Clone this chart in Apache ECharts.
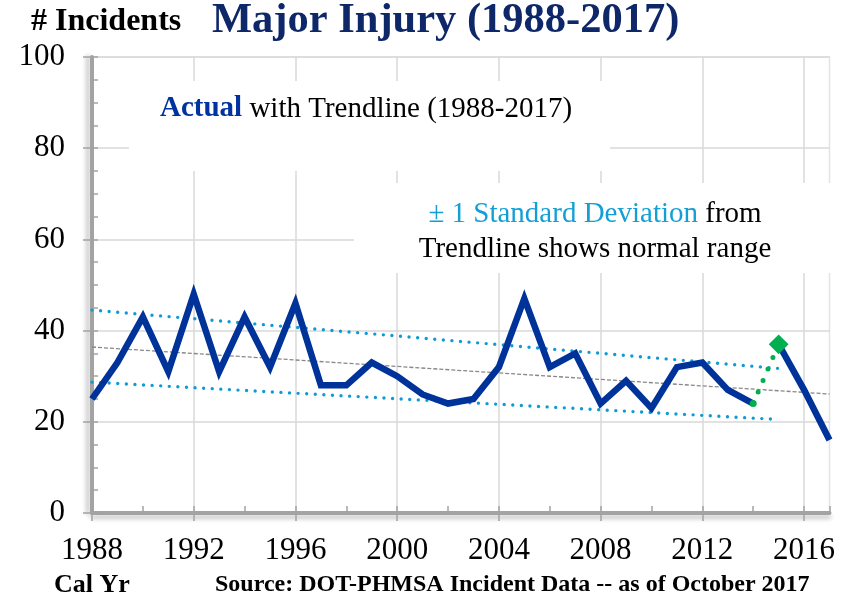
<!DOCTYPE html>
<html>
<head>
<meta charset="utf-8">
<script src="https://cdn.jsdelivr.net/npm/echarts@6/dist/echarts.min.js"></script>
<style>
html,body{margin:0;padding:0;background:#fff;}
#chart{width:852px;height:598px;}
</style>
</head>
<body>
<div id="chart"></div>
<script>
// ---- data ----
var years = [1988,1989,1990,1991,1992,1993,1994,1995,1996,1997,1998,1999,2000,2001,2002,
             2003,2004,2005,2006,2007,2008,2009,2010,2011,2012,2013,2014,2015,2016,2017];
var incidents = [25,33,43,31,48,31,43,32,46,28,28,33,30,26,24,
                 25,32,47,32,35,24,29,23,32,33,27,24,37,27,16];
var trendYears = [1988, 2017];
var trendValues = [36.4, 26.1];
var bandYears = [1988, 2015];
var upperBand = [44.5, 31.7];
var lowerBand = [28.7, 20.5];
var xTickLabels = [1988,1992,1996,2000,2004,2008,2012,2016];
var yTickLabels = [0,20,40,60,80,100];

function pairs(xs, ys){ return xs.map(function(x,i){ return [x, ys[i]]; }); }
var all = pairs(years, incidents);
var i2014 = years.indexOf(2014), i2015 = years.indexOf(2015);
var partA = all.slice(0, i2014 + 1);
var partB = all.slice(i2015);

var serif = '"Liberation Serif","Times New Roman",serif';
var chart = echarts.init(document.getElementById('chart'), null, {renderer:'canvas'});

var axisGray = '#a3a3a3';
chart.setOption({
  animation: false,
  backgroundColor: '#fff',
  grid: { left: 92, right: 22.5, top: 57, bottom: 85, show: true, borderColor: '#e3e3e3', borderWidth: 1.5 },
  xAxis: [{
    type: 'value', min: 1988, max: 2017, interval: 4,
    axisLine: { show: true, lineStyle: { color: axisGray, width: 4, shadowColor: 'rgba(0,0,0,0.22)', shadowBlur: 4, shadowOffsetY: 4 } },
    axisTick: { show: true, inside: false, length: 8, lineStyle: { color: axisGray, width: 1.5 }, customValues: xTickLabels },
    axisLabel: { show: true, margin: 22, fontFamily: serif, fontSize: 31, color: '#000', customValues: xTickLabels,
                 formatter: function(v){ return String(v); } },
    splitLine: { show: true, lineStyle: { color: '#d9d9d9', width: 1.5 } }
  },{
    type: 'value', min: 1988, max: 2017, interval: 2, position: 'bottom',
    axisLine: { show: false },
    axisTick: { show: true, inside: true, length: 7, lineStyle: { color: axisGray, width: 1.5 } },
    axisLabel: { show: false },
    splitLine: { show: false }
  }],
  yAxis: [{
    type: 'value', min: 0, max: 100, interval: 20,
    axisLine: { show: true, lineStyle: { color: axisGray, width: 4, shadowColor: 'rgba(0,0,0,0.22)', shadowBlur: 4, shadowOffsetX: -4 } },
    axisTick: { show: true, inside: false, length: 9, lineStyle: { color: axisGray, width: 1.5 }, customValues: yTickLabels },
    axisLabel: { show: true, margin: 27, fontFamily: serif, fontSize: 31, color: '#000', customValues: yTickLabels },
    splitLine: { show: true, lineStyle: { color: '#d9d9d9', width: 1.5 } }
  },{
    type: 'value', min: 0, max: 100, interval: 5, position: 'left',
    axisLine: { show: false },
    axisTick: { show: true, inside: true, length: 6, lineStyle: { color: axisGray, width: 1.5 } },
    axisLabel: { show: false },
    splitLine: { show: false }
  }],
  series: [
    { name: 'Trend', type: 'line', z: 3, symbol: 'none', data: pairs(trendYears, trendValues),
      lineStyle: { color: '#888', width: 1.3, type: [4, 2] } },
    { name: 'Upper', type: 'line', z: 3, symbol: 'none', data: pairs(bandYears, upperBand),
      lineStyle: { color: '#0e9bd5', width: 3.4, type: [0, 8.6], cap: 'round' } },
    { name: 'Lower', type: 'line', z: 3, symbol: 'none', data: pairs(bandYears, lowerBand),
      lineStyle: { color: '#0e9bd5', width: 3.4, type: [0, 8.6], cap: 'round' } },
    { name: 'Actual', type: 'line', z: 4, symbol: 'none', data: partA,
      lineStyle: { color: '#003399', width: 6.5, join: 'miter' } },
    { name: 'Actual2', type: 'line', z: 4, symbol: 'none', data: partB,
      lineStyle: { color: '#003399', width: 6.5, join: 'miter' } },
    { name: 'Link', type: 'line', z: 5, showSymbol: true,
      data: [
        { value: all[i2014], symbol: 'circle', symbolSize: 7 },
        { value: all[i2015], symbol: 'rect', symbolSize: 14, symbolRotate: 45 }
      ],
      itemStyle: { color: '#00b050' },
      lineStyle: { color: '#00b050', width: 5, type: [0, 12.5], cap: 'round' } }
  ],
  graphic: [
    { type: 'rect', z: 1, shape: { x: 129, y: 81, width: 481, height: 90 }, style: { fill: '#fff' } },
    { type: 'rect', z: 1, shape: { x: 354, y: 183, width: 480, height: 90 }, style: { fill: '#fff' } },
    { type: 'text', z: 10, x: 31, y: 22, style: { text: '# Incidents', font: 'bold 32px ' + serif, fill: '#000', verticalAlign: 'middle' } },
    { type: 'text', z: 10, x: 212, y: 21, style: { text: 'Major Injury (1988-2017)', font: 'bold 42.5px ' + serif, fill: '#0d2769', verticalAlign: 'middle' } },
    { type: 'text', z: 10, x: 160, y: 109, style: {
        text: '{a|Actual}{b| with Trendline (1988-2017)}', verticalAlign: 'middle',
        rich: { a: { font: 'bold 29px ' + serif, fill: '#0033a0' }, b: { font: '29px ' + serif, fill: '#000' } } } },
    { type: 'text', z: 10, x: 595, y: 214, style: {
        text: '{c|± 1 Standard Deviation}{b| from}', align: 'center', verticalAlign: 'middle',
        rich: { c: { font: '29px ' + serif, fill: '#139fd6' }, b: { font: '29px ' + serif, fill: '#000' } } } },
    { type: 'text', z: 10, x: 595, y: 249, style: { text: 'Trendline shows normal range', font: '29px ' + serif, fill: '#000', align: 'center', verticalAlign: 'middle' } },
    { type: 'text', z: 10, x: 54, y: 585, style: { text: 'Cal Yr', font: 'bold 26px ' + serif, fill: '#000', verticalAlign: 'middle' } },
    { type: 'text', z: 10, x: 215, y: 585, style: { text: 'Source: DOT-PHMSA Incident Data -- as of October 2017', font: 'bold 24px ' + serif, fill: '#000', verticalAlign: 'middle' } }
  ]
});
</script>
</body>
</html>
